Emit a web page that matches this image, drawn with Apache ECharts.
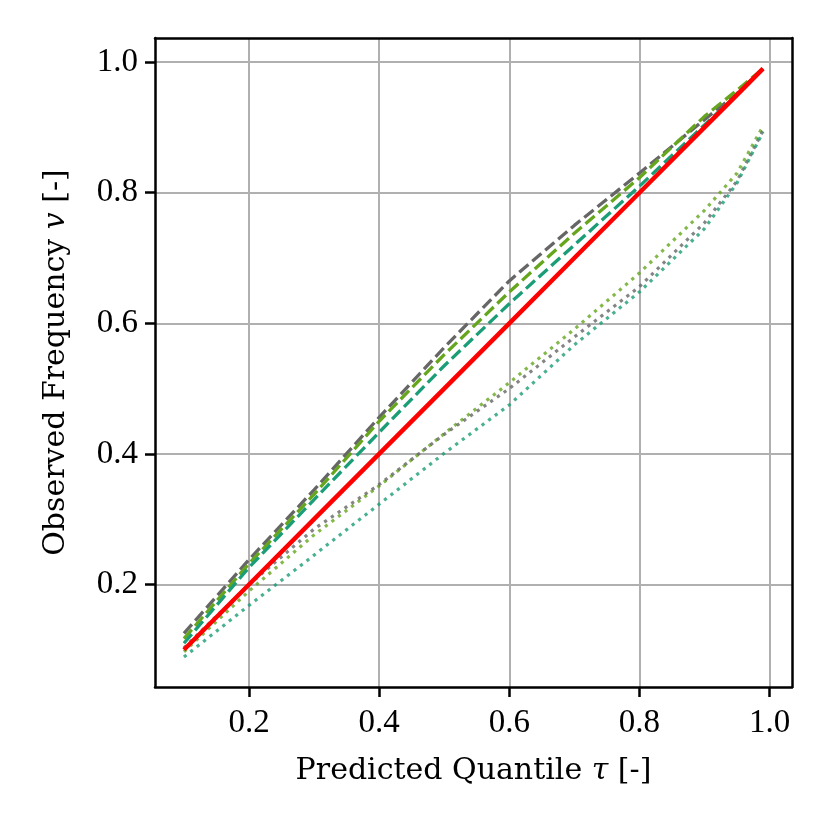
<!DOCTYPE html>
<html>
<head>
<meta charset="utf-8">
<script src="https://cdn.jsdelivr.net/npm/echarts@6/dist/echarts.min.js"></script>
<style>
html,body{margin:0;padding:0;background:#fff;}
#chart{width:829px;height:829px;}
</style>
</head>
<body>
<div id="chart"></div>
<script>
// Predicted quantile levels
const tau = [0.1, 0.2, 0.3, 0.4, 0.5, 0.6, 0.7, 0.8, 0.9, 0.95, 0.99];
// Ideal calibration line
const ideal = [0.1, 0.2, 0.3, 0.4, 0.5, 0.6, 0.7, 0.8, 0.9, 0.95, 0.99];
// Dashed series
const grayDashed  = [0.125, 0.238, 0.345, 0.456, 0.563, 0.665, 0.750, 0.830, 0.912, 0.952, 0.99];
const greenDashed = [0.117, 0.232, 0.338, 0.450, 0.552, 0.648, 0.738, 0.823, 0.917, 0.957, 0.99];
const tealDashed  = [0.110, 0.226, 0.330, 0.433, 0.535, 0.630, 0.720, 0.810, 0.904, 0.950, 0.99];
// Dotted series
const greenDotted = [0.097, 0.190, 0.276, 0.351, 0.431, 0.509, 0.591, 0.677, 0.773, 0.830, 0.902];
const grayDotted  = [0.103, 0.200, 0.285, 0.353, 0.430, 0.500, 0.579, 0.656, 0.754, 0.818, 0.895];
const tealDotted  = [0.089, 0.168, 0.245, 0.323, 0.401, 0.475, 0.567, 0.648, 0.745, 0.815, 0.893];
// Tick labels
const xTicks = [0.2, 0.4, 0.6, 0.8, 1.0];
const yTicks = [0.2, 0.4, 0.6, 0.8, 1.0];

const pairs = ys => tau.map((t, i) => [t, ys[i]]);
const FONT = 'Liberation Serif';
const TFONT = 'DejaVu Serif';

function mk(name, ys, color, width, dash, opacity) {
  return {
    name, type: 'line', data: pairs(ys), symbol: 'none', smooth: false,
    lineStyle: { color, width, type: dash || 'solid', opacity: opacity == null ? 1 : opacity, cap: 'butt' },
    z: 3
  };
}

const chart = echarts.init(document.getElementById('chart'), null, { renderer: 'canvas' });
const axisCommon = {
  axisLine: { show: true, lineStyle: { color: '#000', width: 2.5 } },
  splitLine: { show: true, lineStyle: { color: '#b0b0b0', width: 2 } },
};
const titleStyle = { color: '#000', fontFamily: TFONT, fontSize: 30, fontWeight: 'normal',
  rich: { i: { fontFamily: TFONT, fontSize: 30, fontStyle: 'italic', color: '#000' } } };
chart.setOption({
  animation: false,
  backgroundColor: '#fff',
  grid: { left: 155, right: 37, top: 38, bottom: 142, containLabel: false },
  xAxis: [{
    type: 'value', min: 0.0555, max: 1.0345, position: 'bottom',
    ...axisCommon,
    axisTick: { show: true, customValues: xTicks, length: 10, lineStyle: { color: '#000', width: 2.5 } },
    axisLabel: { customValues: xTicks, margin: 20, color: '#000', fontFamily: FONT, fontSize: 33,
      formatter: v => v.toFixed(1) },
    name: 'Predicted Quantile {i|τ} [-]',
    nameLocation: 'middle', nameGap: 69,
    nameTextStyle: titleStyle
  }, {
    type: 'value', min: 0.0555, max: 1.0345, position: 'top',
    axisLine: { show: true, lineStyle: { color: '#000', width: 2.5 } },
    axisTick: { show: false }, axisLabel: { show: false }, splitLine: { show: false }
  }],
  yAxis: [{
    type: 'value', min: 0.043, max: 1.037, position: 'left',
    ...axisCommon,
    axisTick: { show: true, customValues: yTicks, length: 10, lineStyle: { color: '#000', width: 2.5 } },
    axisLabel: { customValues: yTicks, margin: 17, color: '#000', fontFamily: FONT, fontSize: 33,
      formatter: v => v.toFixed(1) },
    name: 'Observed Frequency {i|v} [-]',
    nameLocation: 'middle', nameGap: 84,
    nameTextStyle: titleStyle
  }, {
    type: 'value', min: 0.043, max: 1.037, position: 'right',
    axisLine: { show: true, lineStyle: { color: '#000', width: 2.5 } },
    axisTick: { show: false }, axisLabel: { show: false }, splitLine: { show: false }
  }],
  series: [
    mk('gray dashed', grayDashed, '#666666', 3.3, [12, 5]),
    mk('green dashed', greenDashed, '#66a61e', 3.3, [12, 5]),
    mk('teal dashed', tealDashed, '#1b9e77', 3.3, [12, 5]),
    mk('green dotted', greenDotted, '#66a61e', 3.2, [3.2, 5], 0.8),
    mk('gray dotted', grayDotted, '#666666', 3.2, [3.2, 5], 0.8),
    mk('teal dotted', tealDotted, '#1b9e77', 3.2, [3.2, 5], 0.8),
    mk('ideal', ideal, '#ff0000', 4.5, 'solid')
  ]
});
</script>
</body>
</html>
